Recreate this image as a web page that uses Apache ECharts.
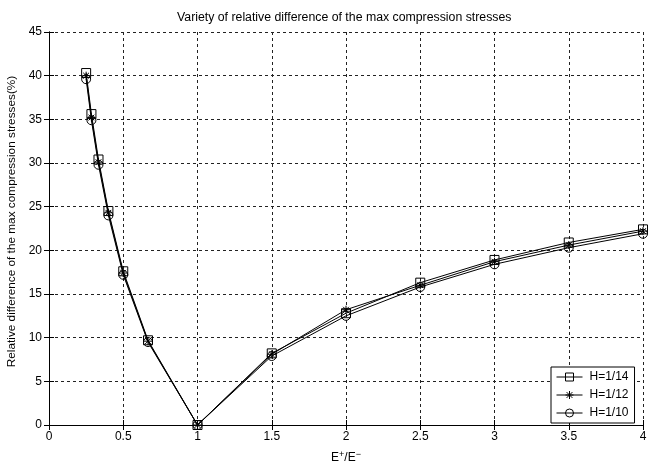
<!DOCTYPE html>
<html>
<head>
<meta charset="utf-8">
<script src="https://cdn.jsdelivr.net/npm/echarts@6/dist/echarts.min.js"></script>
<style>
  html, body { margin: 0; padding: 0; background: #fff; }
  #chart { width: 650px; height: 465px; }
</style>
</head>
<body>
<div id="chart"></div>
<script>
// Stiffness ratio E+/E- at which the stresses were computed
var ratios = [0.25, 0.2857, 0.3333, 0.4, 0.5, 0.6667, 1, 1.5, 2, 2.5, 3, 3.5, 4];

// Relative difference (%) for each thickness ratio
var h14 = [40.3, 35.6, 30.4, 24.5, 17.6, 9.7, 0, 8.2, 12.8, 16.3, 18.9, 20.9, 22.4];
var h12 = [40.0, 35.2, 30.1, 24.3, 17.4, 9.6, 0, 8.1, 13.2, 16.0, 18.7, 20.6, 22.2];
var h10 = [39.6, 34.9, 29.8, 24.0, 17.2, 9.5, 0, 7.9, 12.5, 15.8, 18.4, 20.3, 21.9];

var seriesNames = ['H=1/14', 'H=1/12', 'H=1/10'];

var font = 'Liberation Sans, Arial, Helvetica, sans-serif';

function pairs(ys) {
  return ratios.map(function (x, i) { return [x, ys[i]]; });
}

var asterisk = 'path://M0,-5L0,5M-5,0L5,0M-3.6,-3.6L3.6,3.6M-3.6,3.6L3.6,-3.6';

function makeSeries(name, ys, symbol, size) {
  return {
    name: name,
    type: 'line',
    data: pairs(ys),
    symbol: symbol,
    symbolSize: size,
    showAllSymbol: true,
    lineStyle: { color: '#000', width: 1 },
    itemStyle: { color: 'rgba(0,0,0,0)', borderColor: '#000', borderWidth: 1 },
    emphasis: { disabled: true },
    animation: false
  };
}

var gridLine = { show: true, lineStyle: { color: '#222', type: [3, 3], width: 1 } };
var axisLine = { show: true, lineStyle: { color: '#000', width: 1 } };
var tick = { show: true, inside: true, length: 5, lineStyle: { color: '#000' } };

var chart = echarts.init(document.getElementById('chart'), null, { renderer: 'canvas' });
chart.setOption({
  backgroundColor: '#fff',
  animation: false,
  title: {
    text: 'Variety of relative difference of the max compression stresses',
    left: 172,
    top: 7,
    textStyle: { fontFamily: font, fontSize: 12.3, fontWeight: 'normal', color: '#000' }
  },
  grid: { left: 49, right: 7, top: 32, bottom: 40, show: false, containLabel: false, outerBoundsMode: 'none' },
  legend: {
    orient: 'vertical',
    left: 551,
    top: 367,
    data: seriesNames,
    itemWidth: 26,
    itemHeight: 10,
    itemGap: 6,
    padding: [4, 6, 4, 5],
    backgroundColor: '#fff',
    borderColor: '#000',
    borderWidth: 1,
    borderRadius: 0,
    lineStyle: { width: 1 },
    itemStyle: { color: 'rgba(0,0,0,0)', borderColor: '#000', borderWidth: 1 },
    textStyle: { fontFamily: font, fontSize: 12, color: '#000', padding: [0, 0, 0, 2] }
  },
  xAxis: [{
    type: 'value',
    min: 0, max: 4, interval: 0.5,
    position: 'bottom',
    axisLine: axisLine,
    axisTick: tick,
    splitLine: gridLine,
    axisLabel: { fontFamily: font, fontSize: 12, color: '#000', margin: 6 },
    name: '{b|E}{s|+}{b|/E}{s|\u2212}',
    nameLocation: 'middle',
    nameGap: 25,
    nameTextStyle: {
      rich: {
        b: { fontFamily: font, fontSize: 12, color: '#000' },
        s: { fontFamily: font, fontSize: 9, color: '#000', verticalAlign: 'top', padding: [0, 0, 6, 0] }
      }
    }
  }, {
    type: 'value',
    min: 0, max: 4, interval: 0.5,
    position: 'top',
    axisLine: axisLine,
    axisTick: tick,
    splitLine: { show: false },
    axisLabel: { show: false }
  }],
  yAxis: [{
    type: 'value',
    min: 0, max: 45, interval: 5,
    position: 'left',
    axisLine: axisLine,
    axisTick: tick,
    splitLine: gridLine,
    axisLabel: { fontFamily: font, fontSize: 12, color: '#000', margin: 7 },
    name: 'Relative difference of the max compression stresses(%)',
    nameLocation: 'middle',
    nameGap: 24,
    nameTextStyle: { fontFamily: font, fontSize: 11.8, color: '#000', padding: [0, 0, 0, 14] }
  }, {
    type: 'value',
    min: 0, max: 45, interval: 5,
    position: 'right',
    axisLine: axisLine,
    axisTick: tick,
    splitLine: { show: false },
    axisLabel: { show: false }
  }],
  series: [
    makeSeries(seriesNames[0], h14, 'rect', 9),
    makeSeries(seriesNames[1], h12, asterisk, 8),
    makeSeries(seriesNames[2], h10, 'circle', 9)
  ]
});
</script>
</body>
</html>
